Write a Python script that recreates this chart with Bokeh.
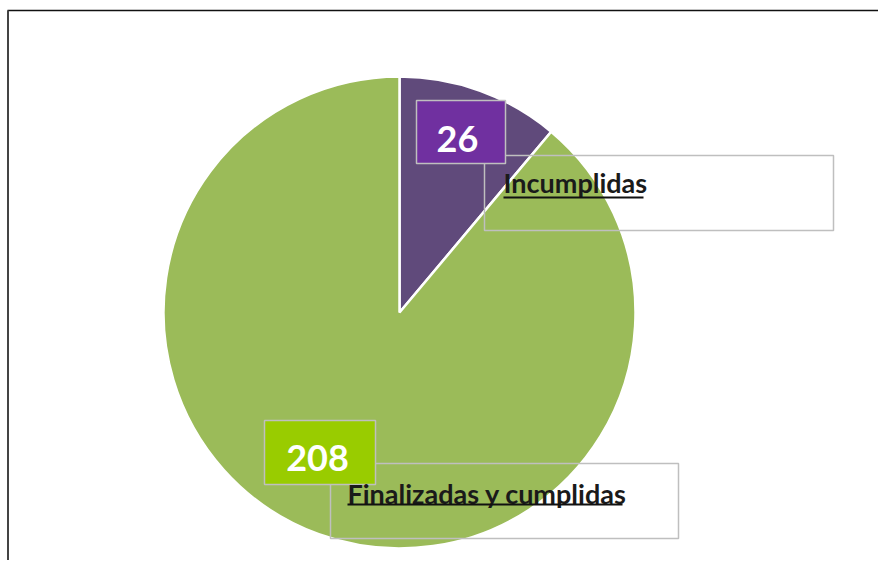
import math
from bokeh.plotting import figure
from bokeh.models import Range1d, ColumnDataSource
from bokeh.core.properties import value
from bokeh.embed import file_html
from bokeh.resources import INLINE

# ---- data ----
categories = ["Incumplidas", "Finalizadas y cumplidas"]
values = [26, 208]
slice_colors = ["#604A7B", "#9BBB59"]
badge_colors = ["#7030A0", "#99CC00"]

W, H = 878, 560
p = figure(width=W, height=H, output_backend="svg", toolbar_location=None,
           x_range=Range1d(0, W), y_range=Range1d(0, H), min_border=0)
p.axis.visible = False
p.grid.visible = False
p.outline_line_color = None
p.background_fill_color = "white"
p.border_fill_color = "white"

# frame lines (top and left visible in the reference)
p.line([7, W], [550, 550], line_color="#111111", line_width=1.5)
p.line([7.5, 7.5], [0, 550], line_color="#444444", line_width=2)

# ---- pie ----
cx, cy, r = 399, 248, 236
total = sum(values)
starts, ends = [], []
cur = math.pi / 2  # 12 o'clock, going clockwise
for v in values:
    a = 2 * math.pi * v / total
    starts.append(cur - a)
    ends.append(cur)
    cur -= a
src = ColumnDataSource(dict(cat=categories, val=values, start=starts, end=ends, color=slice_colors))
p.wedge(x=cx, y=cy, radius=r, start_angle="start", end_angle="end", direction="anticlock",
        fill_color="color", line_color="white", line_width=2.5, source=src)

# ---- label boxes (outline only) ----
p.rect(x=[658.5, 504], y=[367.5, 59.5], width=[349, 348], height=75, fill_color=None,
       line_color="#BFBFBF", line_width=1.5)

# ---- value badges ----
p.rect(x=[460.5, 319.5], y=[428.5, 108], width=[89, 111], height=[63, 64],
       fill_color=badge_colors, line_color="#BFBFBF", line_width=1.5)
p.text(x=[457, 317], y=[422, 103], text=[str(v) for v in values],
       text_font=value("Lato"), text_font_style="bold", text_font_size="36px",
       text_color="white", text_align="center", text_baseline="middle")

# ---- category labels ----
lab_x = [503, 347]
p.text(x=lab_x, y=[378, 67], text=categories, text_font=value("Lato"), text_font_style="bold",
       text_font_size="27px", text_color="#1A1A1A", text_align="left",
       text_baseline="middle")
p.segment(x0=lab_x, y0=[363, 56], x1=[643, 622], y1=[363, 56],
          line_color="#111111", line_width=2)

open("out.html", "w").write(file_html(p, INLINE))
